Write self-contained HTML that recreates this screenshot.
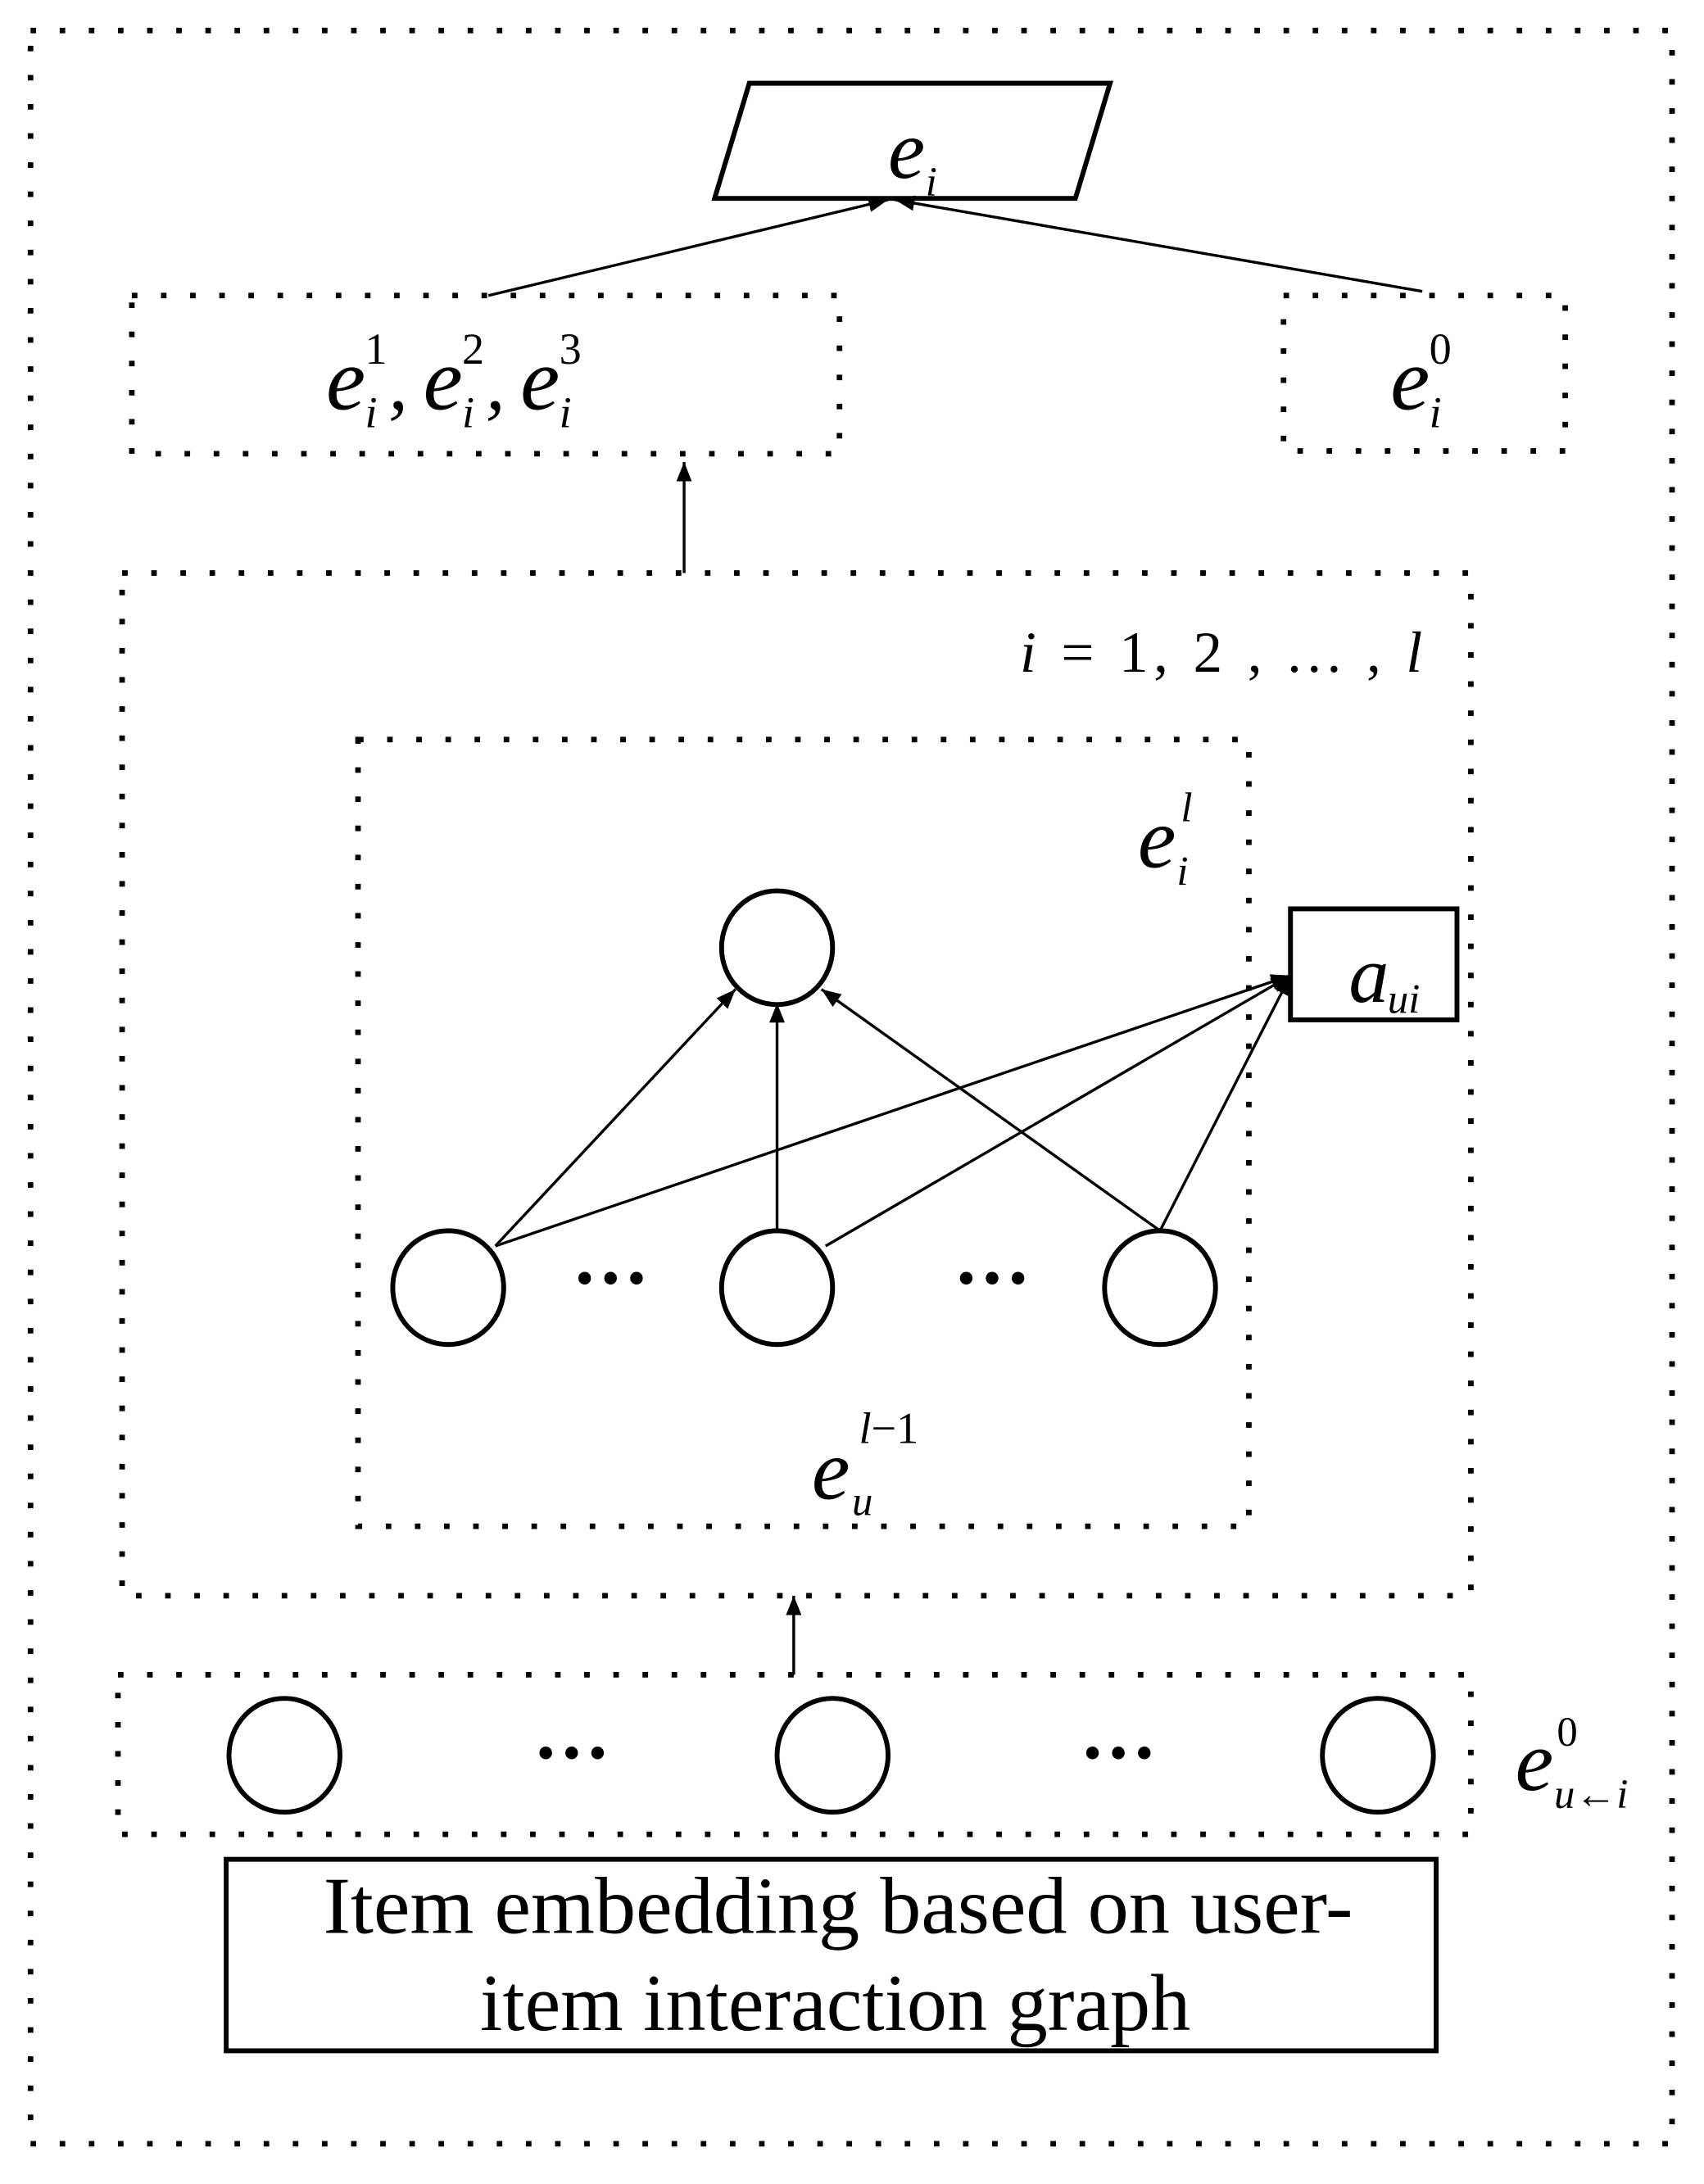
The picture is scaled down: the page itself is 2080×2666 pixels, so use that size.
<!DOCTYPE html>
<html><head><meta charset="utf-8"><style>
html,body{margin:0;padding:0;background:#fff}
svg{display:block}
text{font-family:"Liberation Serif",serif;fill:#000}
.it{font-style:italic}
</style></head><body>
<svg width="2080" height="2666" viewBox="0 0 1228 1574" xmlns="http://www.w3.org/2000/svg">
<defs>
<marker id="ah2" viewBox="0 0 10 10" refX="10" refY="5" markerWidth="14" markerHeight="14" markerUnits="userSpaceOnUse" orient="auto"><path d="M0,1 L10,5 L0,9 z" fill="#000"/></marker>
</defs>
<g fill="none" stroke="#000" stroke-width="4" stroke-dasharray="4 17">
<rect x="22" y="22" width="1183" height="1523"/>
<rect x="95" y="213" width="510" height="114"/>
<rect x="925" y="213" width="203" height="112"/>
<rect x="88" y="413" width="972" height="737"/>
<rect x="258" y="533" width="642" height="567"/>
<rect x="85" y="1207" width="975" height="115"/>
</g>
<g fill="none" stroke="#000" stroke-width="3.5">
<polygon points="540,60 800,60 775,143 515,143"/>
<rect x="930" y="655" width="120" height="80"/>
<rect x="163" y="1340" width="872" height="138"/>
<ellipse cx="560" cy="683" rx="40" ry="41"/>
<ellipse cx="323" cy="928" rx="40" ry="41"/>
<ellipse cx="560" cy="928" rx="40" ry="41"/>
<ellipse cx="836" cy="928" rx="40" ry="41"/>
<ellipse cx="205" cy="1265" rx="40" ry="41"/>
<ellipse cx="600" cy="1265" rx="40" ry="41"/>
<ellipse cx="993" cy="1265" rx="40" ry="41"/>
</g>
<g stroke="#000" stroke-width="2" fill="none">
<line x1="352" y1="213" x2="640" y2="144" marker-end="url(#ah2)"/>
<line x1="1025" y1="210" x2="645" y2="144" marker-end="url(#ah2)"/>
<line x1="493" y1="413" x2="493" y2="333" marker-end="url(#ah2)"/>
<line x1="357" y1="898" x2="530" y2="713" marker-end="url(#ah2)"/>
<line x1="560" y1="887" x2="560" y2="723" marker-end="url(#ah2)"/>
<line x1="836" y1="887" x2="592" y2="713" marker-end="url(#ah2)"/>
<line x1="357" y1="898" x2="930" y2="703" marker-end="url(#ah2)"/>
<line x1="595" y1="898" x2="930" y2="703" marker-end="url(#ah2)"/>
<line x1="836" y1="887" x2="930" y2="703" marker-end="url(#ah2)"/>
<line x1="572" y1="1207" x2="572" y2="1150" marker-end="url(#ah2)"/>
</g>
<g font-size="56" font-weight="bold">
<text x="440" y="940" text-anchor="middle">···</text>
<text x="715" y="940" text-anchor="middle">···</text>
<text x="412" y="1282" text-anchor="middle">···</text>
<text x="806" y="1282" text-anchor="middle">···</text>
</g>
<text class="it" x="640" y="128" font-size="60">e</text><text class="it" x="667" y="141" font-size="30">i</text>
<g class="it">
<text x="235" y="295" font-size="64">e</text><text x="263" y="308" font-size="32">i</text><text x="263" y="262" font-size="32" font-style="normal">1</text>
<text x="280" y="295" font-size="56">,</text>
<text x="305" y="295" font-size="64">e</text><text x="333" y="308" font-size="32">i</text><text x="333" y="262" font-size="32" font-style="normal">2</text>
<text x="350" y="295" font-size="56">,</text>
<text x="375" y="295" font-size="64">e</text><text x="403" y="308" font-size="32">i</text><text x="403" y="262" font-size="32" font-style="normal">3</text>
<text x="1002" y="295" font-size="64">e</text><text x="1030" y="308" font-size="32">i</text><text x="1030" y="262" font-size="32" font-style="normal">0</text>
<text x="820" y="625" font-size="62">e</text><text x="848" y="638" font-size="30">i</text><text x="851" y="592" font-size="30">l</text>
<text x="972" y="722" font-size="58">a</text><text x="1000" y="730" font-size="30">ui</text>
<text x="585" y="1080" font-size="62">e</text><text x="614" y="1092" font-size="30">u</text><text x="619" y="1040" font-size="32">l<tspan font-style="normal">−1</tspan></text>
<text x="1092" y="1290" font-size="62">e</text><text x="1120" y="1303" font-size="30">u<tspan font-style="normal">←</tspan>i</text><text x="1122" y="1258" font-size="30" font-style="normal">0</text>
</g>
<text x="735" y="484" font-size="42" textLength="290" lengthAdjust="spacing"><tspan font-style="italic">i</tspan> = 1, 2 , ... , <tspan font-style="italic">l</tspan></text>
<text x="233" y="1393" font-size="58" textLength="742" lengthAdjust="spacingAndGlyphs">Item embedding based on user-</text>
<text x="346" y="1463" font-size="58" textLength="512" lengthAdjust="spacingAndGlyphs">item interaction graph</text>
</svg>
</body></html>
